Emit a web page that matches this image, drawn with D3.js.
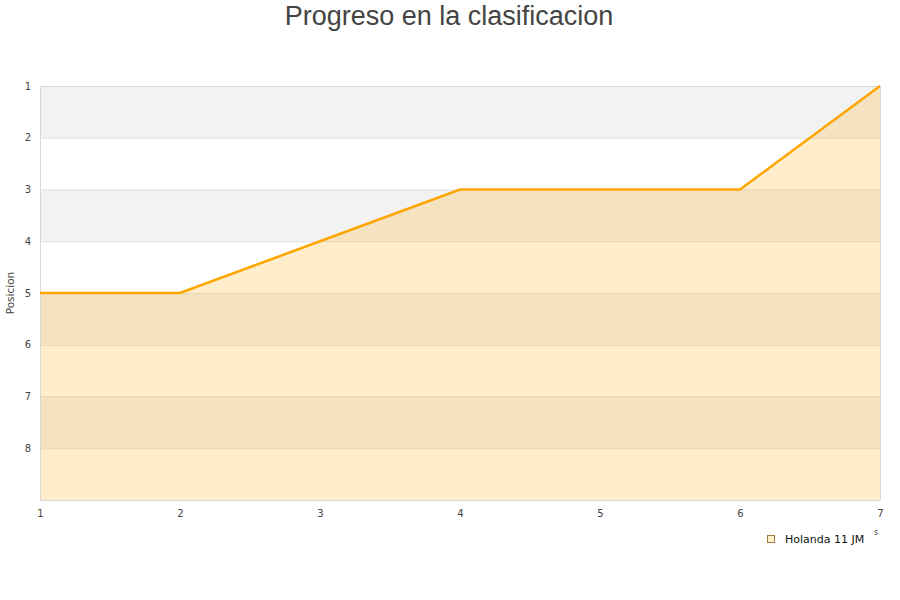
<!DOCTYPE html>
<html><head><meta charset="utf-8">
<script src="https://cdn.jsdelivr.net/npm/d3@7"></script>
<style>body{margin:0;background:#fff}</style>
</head><body>
<svg id="c" width="900" height="600"></svg>
<script>
const jornadas = [1,2,3,4,5,6,7];
const posiciones = [5,5,4,3,3,3,1];
const yTicks = [1,2,3,4,5,6,7,8];
const seriesName = "Holanda 11 JM";
const title = "Progreso en la clasificacion";
const yLabel = "Posicion";

const svg = d3.select("#c");
const L=40,R=880,T=86,B=500;
const x = d3.scaleLinear().domain([1,7]).range([L,R]);
const y = d3.scaleLinear().domain([1,9]).range([T,B]);

// bands
const bands = [1,3,5,7];
svg.selectAll("rect.band").data(bands).enter().append("rect")
  .attr("x",L).attr("width",R-L).attr("y",d=>y(d)).attr("height",d=>y(d+1)-y(d))
  .attr("fill","#f2f2f2");
// grid
svg.selectAll("line.g").data([1,2,3,4,5,6,7,8]).enter().append("line")
  .attr("x1",L).attr("x2",R).attr("y1",d=>y(d)+0.5).attr("y2",d=>y(d)+0.5)
  .attr("stroke","#e0e0e0").attr("stroke-width",1);
// area
const data = jornadas.map((j,i)=>({j,p:posiciones[i]}));
svg.append("path").datum(data)
  .attr("d",d3.area().x(d=>x(d.j)).y0(y(9)).y1(d=>y(d.p)))
  .attr("fill","rgba(255,165,0,0.2)");
// frame
svg.append("line").attr("x1",L+0.5).attr("x2",L+0.5).attr("y1",T).attr("y2",B).attr("stroke","#d8d8d8");
svg.append("line").attr("x1",R+0.5).attr("x2",R+0.5).attr("y1",T).attr("y2",B).attr("stroke","#d8d8d8");
svg.append("line").attr("x1",L).attr("x2",R).attr("y1",B+0.5).attr("y2",B+0.5).attr("stroke","#d8d8d8");
svg.append("line").attr("x1",L).attr("x2",R).attr("y1",T+0.5).attr("y2",T+0.5).attr("stroke","#d8d8d8");
// line
svg.append("path").datum(data)
  .attr("d",d3.line().x(d=>x(d.j)).y(d=>y(d.p)))
  .attr("fill","none").attr("stroke","#ffa500").attr("stroke-width",2.5);

// axes
const yAxis = d3.axisLeft(y).tickValues(yTicks).tickSize(0).tickPadding(9).tickFormat(d3.format("d"));
const gy = svg.append("g").attr("transform",`translate(${L},0)`).call(yAxis);
gy.select(".domain").remove();
gy.selectAll("text").attr("font-family","DejaVu Sans").attr("font-size",10).attr("fill","#444");
const xAxis = d3.axisBottom(x).tickValues(jornadas).tickSize(0).tickPadding(10).tickFormat(d3.format("d"));
const gx = svg.append("g").attr("transform",`translate(0,${B})`).call(xAxis);
gx.select(".domain").remove();
gx.selectAll("text").attr("font-family","DejaVu Sans").attr("font-size",10).attr("fill","#444");

// title
svg.append("text").attr("x",449).attr("y",25).attr("text-anchor","middle")
  .attr("font-family","Liberation Sans").attr("font-size",27).attr("fill","#444").text(title);
// y label
svg.append("text").attr("transform","translate(14,293) rotate(-90)").attr("text-anchor","middle")
  .attr("font-family","DejaVu Sans").attr("font-size",10.5).attr("fill","#444").text(yLabel);
// small x label remnant
svg.append("text").attr("x",876).attr("y",535).attr("text-anchor","middle")
  .attr("font-family","DejaVu Sans").attr("font-size",8).attr("fill","#444").text("s");
// legend
svg.append("rect").attr("x",767.5).attr("y",535.5).attr("width",7).attr("height",7)
  .attr("fill","#ffedcc").attr("stroke","#a07a3a").attr("stroke-width",1);
svg.append("text").attr("x",785).attr("y",543).attr("font-family","DejaVu Sans").attr("font-size",11)
  .attr("fill","#111").text(seriesName);
</script>
</body></html>
